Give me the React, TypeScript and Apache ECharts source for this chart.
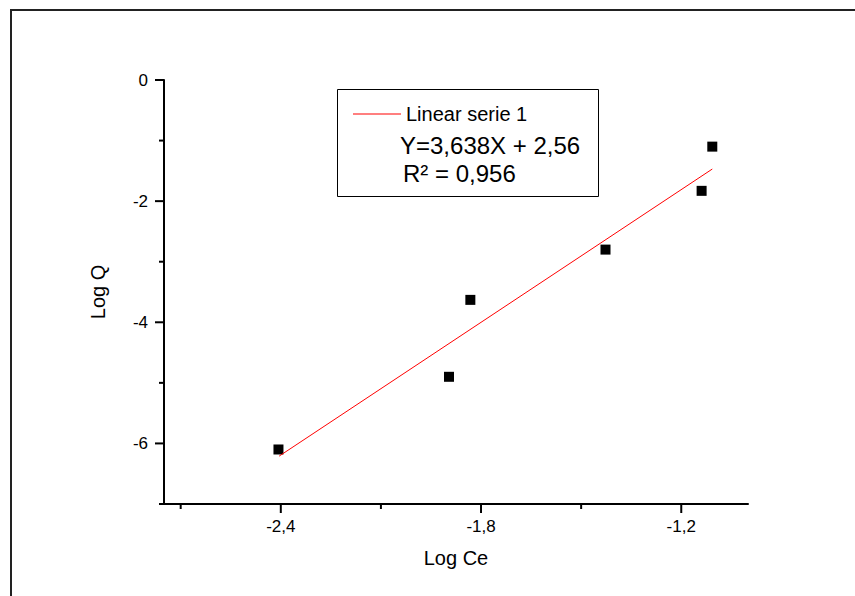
import React, { useEffect, useRef } from "react";
import * as echarts from "echarts";

const logCe = [-2.407, -1.896, -1.832, -1.427, -1.139, -1.107];
const logQ = [-6.1, -4.9, -3.63, -2.8, -1.83, -1.1];
const fitX = [-2.405, -1.107];
const fitY = [-6.21, -1.47];
const xMajorTicks = [-2.4, -1.8, -1.2];
const xMinorTicks = [-2.7, -2.1, -1.5];
const yMajorTicks = [0, -2, -4, -6];
const yMinorTicks = [-1, -3, -5, -7];
const legendName = "Linear serie 1";
const equationText = "Y=3,638X + 2,56";
const r2Text = "R² = 0,956";

const X_MIN = -2.75;
const X_MAX = -1.0;
const Y_MIN = -7;
const Y_MAX = 0;

const FONT = "'Liberation Sans', Arial, sans-serif";
const fmt = (v: number) => String(v).replace(".", ",");

export default function App() {
  const ref = useRef<HTMLDivElement>(null);
  useEffect(() => {
    if (!ref.current) return;
    const chart = echarts.init(ref.current, undefined, { renderer: "svg" });
    const axisLine = { show: true, onZero: false, lineStyle: { color: "#000", width: 2 } };
    const xTickData = [
      ...xMajorTicks.map((v) => [v, Y_MIN, 9]),
      ...xMinorTicks.map((v) => [v, Y_MIN, 5]),
    ];
    const yTickData = [
      ...yMajorTicks.map((v) => [X_MIN, v, 9]),
      ...yMinorTicks.map((v) => [X_MIN, v, 5]),
    ];
    chart.setOption({
      animation: false,
      backgroundColor: "#fff",
      textStyle: { fontFamily: FONT },
      grid: { left: 164, top: 80, right: 107, bottom: 92 },
      legend: {
        data: [legendName],
        left: 353,
        top: 104,
        padding: 0,
        icon: "rect",
        itemWidth: 48,
        itemHeight: 1,
        textStyle: { fontSize: 20, color: "#000", fontFamily: FONT },
      },
      xAxis: {
        type: "value",
        min: X_MIN,
        max: X_MAX,
        name: "Log Ce",
        nameLocation: "middle",
        nameGap: 44,
        nameTextStyle: { fontSize: 20, color: "#000", fontFamily: FONT },
        axisLine,
        axisTick: { show: false },
        axisLabel: { customValues: xMajorTicks, formatter: fmt, fontSize: 17, color: "#000", margin: 14, fontFamily: FONT },
        splitLine: { show: false },
      },
      yAxis: {
        type: "value",
        min: Y_MIN,
        max: Y_MAX,
        name: "Log Q",
        nameLocation: "middle",
        nameGap: 56,
        nameTextStyle: { fontSize: 20, color: "#000", fontFamily: FONT },
        axisLine,
        axisTick: { show: false },
        axisLabel: { customValues: yMajorTicks, formatter: fmt, fontSize: 17, color: "#000", margin: 16, fontFamily: FONT },
        splitLine: { show: false },
      },
      series: [
        {
          type: "scatter",
          name: "data",
          symbol: "rect",
          symbolSize: 10,
          itemStyle: { color: "#000", opacity: 1 },
          data: logCe.map((x, i) => [x, logQ[i]]),
        },
        {
          type: "line",
          name: legendName,
          showSymbol: false,
          symbol: "none",
          lineStyle: { color: "#ff0000", width: 1 },
          itemStyle: { color: "#ff0000" },
          data: fitX.map((x, i) => [x, fitY[i]]),
        },
        {
          type: "custom",
          name: "xTicks",
          clip: false,
          silent: true,
          data: xTickData,
          renderItem: (_p: any, api: any) => {
            const pt = api.coord([api.value(0), api.value(1)]);
            const len = api.value(2);
            return {
              type: "line",
              shape: { x1: pt[0], y1: pt[1], x2: pt[0], y2: pt[1] + len },
              style: { stroke: "#000", lineWidth: 2 },
            };
          },
        },
        {
          type: "custom",
          name: "yTicks",
          clip: false,
          silent: true,
          data: yTickData,
          renderItem: (_p: any, api: any) => {
            const pt = api.coord([api.value(0), api.value(1)]);
            const len = api.value(2);
            return {
              type: "line",
              shape: { x1: pt[0] - len, y1: pt[1], x2: pt[0], y2: pt[1] },
              style: { stroke: "#000", lineWidth: 2 },
            };
          },
        },
      ],
      graphic: [
        {
          type: "rect",
          shape: { x: 11, y: 10, width: 900, height: 700 },
          style: { fill: "none", stroke: "#222", lineWidth: 2 },
          silent: true,
        },
        {
          type: "rect",
          shape: { x: 337.5, y: 89.5, width: 261, height: 107 },
          style: { fill: "none", stroke: "#000", lineWidth: 1 },
          silent: true,
        },
        {
          type: "text",
          x: 400,
          y: 145,
          style: { text: equationText, fill: "#000", font: `24px ${FONT}`, verticalAlign: "middle" },
        },
        {
          type: "text",
          x: 403,
          y: 173,
          style: { text: r2Text, fill: "#000", font: `24px ${FONT}`, verticalAlign: "middle" },
        },
      ],
    });
    return () => chart.dispose();
  }, []);
  return <div ref={ref} style={{ position: "absolute", left: 0, top: 0, width: 855, height: 596 }} />;
}
